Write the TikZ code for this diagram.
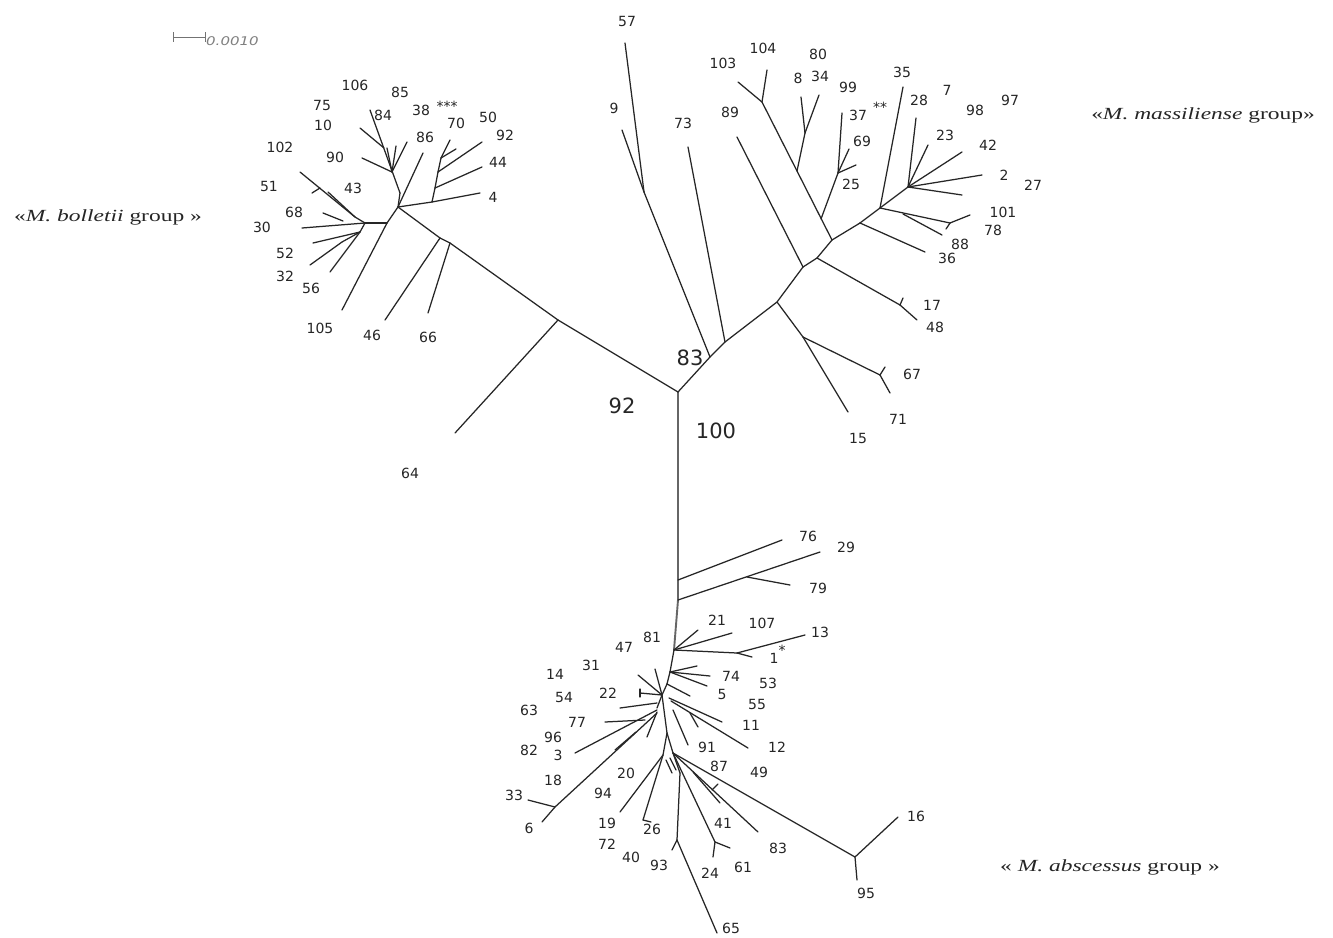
\documentclass[tikz,border=0pt]{standalone}
\usepackage{fontspec}
\setmainfont{DejaVu Sans}
\newfontfamily\grpfont{Liberation Serif}
\begin{document}
\begin{tikzpicture}[x=1pt,y=-1pt,
  br/.style={line width=1.25pt, draw=black!85, line cap=round},
  trunk/.style={line width=1.9pt, draw=black!60},
  lab/.style={font=\fontsize{14}{14}\selectfont, text=black!85, inner sep=0pt},
  big/.style={font=\fontsize{21}{21}\selectfont, text=black!85, inner sep=0pt},
  star/.style={font=\fontsize{14}{14}\selectfont, text=black!85, inner sep=0pt},
  grp/.style={font=\grpfont\fontsize{17}{17}\selectfont, text=black!85, inner sep=0pt}]
\useasboundingbox (0,0) rectangle (1333,937);
\fill[white] (0,0) rectangle (1333,937);
% ---------------- coordinates ----------------
\coordinate (C) at (678,392);
\foreach \n/\x/\y in {M1/710/357, M2/644/192, t57/625/43, t9/622/130, M3/725/342, t73/688/147,
  M4/777/302, M5/803/337, t15/848/412, M6/880/375, t71/890/393, t67/885/367,
  M7/803/267, t89/737/137, M8/817/258, M9/900/305, t48/917/320, t17/903/298,
  M10/832/240, M11/762/102, t103/738/82, t104/767/70, M12/797/171, M13/805/133, t8/801/97, t34/819/95,
  M14/821/219, M15/838/173, t37/842/113, t69/849/149, t25/856/165,
  M16/860/223, t36/925/252, M17/880/208, t35/903/87, M21/908/187, t28/916/118, t23/928/145,
  t42/962/152, t2/982/175, t27/962/195, M18/903/214, t88/942/235, M19/950/223, t101/970/215, t78/946/229,
  B1/558/320, t64/455/433, B3/450/243, t66/428/313, B2/440/238, t46/385/320,
  J/398/207, B6/387/223, t105/342/310, t86/423/153,
  B7/365/223, t30/302/228, B8/355/217, t102/300/172, t43/328/192, b51/320/188, t51/312/193,
  t68/323/213, b68/343/221, B9/360/232, t52/313/243, B10/342/242, t32/310/265, t56/330/272,
  U0/400/193, t84/370/110, U1/384/148, t75/360/128, U2/392/172, t90/362/158, t85/387/148,
  t38/396/146, t86s/407/142,
  R1/432/202, t4/480/193, R2/435/188, t44/482/167, R3/438/172, t92/482/142, R4/441/158, t70/450/140, t50/456/149,
  A1/678/580, t76/782/540, A2/678/600, t29/820/552, A3/747/577, t79/790/585,
  A5/674/650, t21/698/630, t107/732/633, A6/737/653, t13/805/635, t1/752/657,
  A7/670/672, t74a/697/666, t74b/710/676, t74c/707/686, A8/667/684, t5/690/696,
  H/662/695, t31/638/675, t47/655/669, t22/640/693,
  H2/657/708, e1/620/708, h1/657/703, e2/605/722, h2/645/720, e3/575/753, h3/657/710,
  S1/555/807, t33/528/800, t6/542/822, h4/657/713, s2/636/732, e4/615/750,
  e5/647/737, h5/657/712,
  r0/669/698, r11/722/722, r1/671/701, r12/748/748, rt1/690/713, rt2/698/727, r2/673/710, r91/688/745,
  L1/667/733, L2/663/755, L3/673/753, t19/620/812, t26/643/820, t26b/651/822,
  k1/666/760, k2/672/773, k3/670/758, k4/676/770,
  L4/680/773, L5/677/840, t93/672/850, t65/717/933,
  L6/715/842, t24/713/857, t61/730/848,
  W1/693/772, t41/720/803, w2/712/790, w3/718/784, t83/758/832,
  P/855/857, t16/898/817, t95/857/880}
  {\coordinate (\n) at (\x,\y);}
% ---------------- branches ----------------
\draw[trunk] (C) -- (A1) -- (A2) -- (A5);
\foreach \a/\b in {C/M1, M1/M2, M2/t57, M2/t9, M1/M3, M3/t73, M3/M4, M4/M5, M5/t15, M5/M6, M6/t71, M6/t67,
  M4/M7, M7/t89, M7/M8, M8/M9, M9/t48, M9/t17, M8/M10, M10/M11, M11/t103, M11/t104,
  M12/M13, M13/t8, M13/t34, M14/M15, M15/t37, M15/t69, M15/t25,
  M10/M16, M16/t36, M16/M17, M17/t35, M17/M21, M21/t28, M21/t23, M21/t42, M21/t2, M21/t27,
  M17/M19, M19/t101, M19/t78, M18/t88,
  C/B1, B1/t64, B1/B3, B3/t66, B3/B2, B2/t46, B2/J, J/t86, J/B6, B6/t105, B6/B7,
  B7/t30, B7/B8, B8/t102, B8/t43, b51/t51, b68/t68, B7/B9, B9/t52, B9/B10, B10/t32, B9/t56,
  J/U0, U0/t84, U1/t75, U2/t90, U2/t85, U2/t38, U2/t86s,
  J/R1, R1/t4, R1/R2, R2/t44, R2/R3, R3/t92, R3/R4, R4/t70, R4/t50,
  A1/t76, A2/t29, A3/t79, A5/t21, A5/t107, A5/A6, A6/t13, A6/t1,
  A5/A7, A7/t74a, A7/t74b, A7/t74c, A7/A8, A8/t5, A8/H,
  H/t31, H/t47, H/t22, H/H2, e1/h1, e2/h2, e3/h3, h4/S1, S1/t33, S1/t6, e4/s2, e5/h5,
  r0/r11, r1/r12, rt1/rt2, r2/r91,
  H/L1, L1/L2, L1/L3, L2/t19, L2/t26, t26/t26b, k1/k2, k3/k4,
  L3/L4, L4/L5, L5/t93, L5/t65, L3/L6, L6/t24, L6/t61, L3/t83, W1/t41, w2/w3, L3/P, P/t16, P/t95}
  {\draw[br] (\a) -- (\b);}
\draw[br] (t22) ++(0,-4) -- ++(0,8);
% ---------------- leaf labels ----------------
\foreach \t/\x/\y in {57/627/21, 9/614/108, 73/683/123, 89/730/112, 103/723/63, 104/763/48,
  80/818/54, 8/798/78, 34/820/76, 99/848/87, 37/858/115, 69/862/141, 25/851/184,
  35/902/72, 7/947/90, 28/919/100, 98/975/110, 97/1010/100, 23/945/135, 42/988/145,
  2/1004/175, 27/1033/185, 101/1003/212, 78/993/230, 88/960/244, 36/947/258,
  17/932/305, 48/935/327, 67/912/374, 71/898/419, 15/858/438,
  75/322/105, 10/323/125, 106/355/85, 85/400/92, 84/383/115, 38/421/110, 70/456/123,
  50/488/117, 92/505/135, 44/498/162, 4/493/197, 86/425/137, 90/335/157, 102/280/147,
  43/353/188, 51/269/186, 68/294/212, 30/262/227, 52/285/253, 32/285/276, 56/311/288,
  105/320/328, 46/372/335, 66/428/337, 64/410/473,
  76/808/536, 29/846/547, 79/818/588, 21/717/620, 107/762/623, 13/820/632, 1/774/658,
  81/652/637, 47/624/647, 31/591/665, 14/555/674, 54/564/697, 22/608/693, 63/529/710,
  77/577/722, 96/553/737, 82/529/750, 3/558/755, 18/553/780, 20/626/773, 94/603/793,
  33/514/795, 6/529/828, 19/607/823, 72/607/844, 26/652/829, 40/631/857, 93/659/865,
  24/710/873, 61/743/867, 83/778/848, 41/723/823, 87/719/766, 49/759/772, 91/707/747,
  12/777/747, 11/751/725, 55/757/704, 53/768/683, 74/731/676, 5/722/694, 65/731/928,
  16/916/816, 95/866/893}
  {\node[lab] (n\t) at (\x,\y) {\t};}
\node[star] (s3) at (447,106) {***};
\node[star] (s2) at (880,107) {**};
\node[star] (s1) at (782,650) {*};
% ---------------- support values ----------------
\node[big] (b83) at (690,358) {83};
\node[big] (b92) at (622,406) {92};
\node[big] (b100) at (716,431) {100};
% ---------------- group labels ----------------
\node[grp] (gb) at (108,217) {\scalebox{1.38}[1]{«\textit{M. bolletii} group »}};
\node[grp] (gm) at (1203,115) {\scalebox{1.38}[1]{«\textit{M. massiliense} group»}};
\node[grp] (ga) at (1110,867) {\scalebox{1.38}[1]{« \textit{M. abscessus} group »}};
% ---------------- scale bar ----------------
\coordinate (sb1) at (173,37);
\coordinate (sb2) at (205,37);
\draw[line width=0.9pt, draw=black!55] (sb1) -- (sb2);
\draw[line width=0.9pt, draw=black!55] (sb1) ++(0,-5) -- ++(0,10);
\draw[line width=0.9pt, draw=black!55] (sb2) ++(0,-5) -- ++(0,10);
\node[font=\fontsize{12}{12}\selectfont\itshape, text=black!50, anchor=west, inner sep=0pt] (sbl) at (206,41) {\scalebox{1.25}[1]{0.0010}};
\end{tikzpicture}
\end{document}
